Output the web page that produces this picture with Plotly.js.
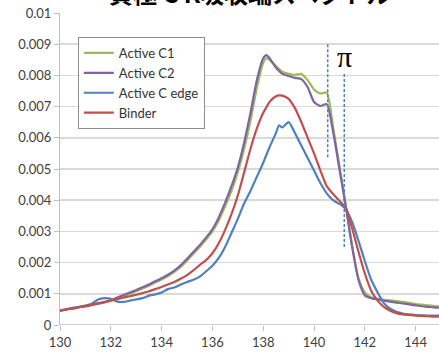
<!DOCTYPE html>
<html><head><meta charset="utf-8">
<script src="https://cdn.plot.ly/plotly-3.0.1.min.js"></script>
<style>html,body{margin:0;padding:0;background:#fff;}#chart{width:439px;height:352px;}</style>
</head><body><div id="chart"></div>
<script>
// Photon energy (eV)
const energy = [130,130.25,130.5,130.75,131,131.25,131.5,131.75,132,132.25,132.5,132.75,133,133.25,133.5,133.75,134,134.25,134.5,134.75,135,135.25,135.5,135.75,136,136.25,136.5,136.75,137,137.25,137.5,137.75,138,138.125,138.25,138.5,138.625,138.75,139,139.25,139.5,139.75,140,140.25,140.5,140.75,141,141.25,141.5,141.75,142,142.25,142.5,142.75,143,143.25,143.5,143.75,144,144.25,144.5,144.75,145];
// Intensities in units of 1e-3
const activeC1 = [0.46,0.50,0.53,0.57,0.60,0.64,0.68,0.72,0.78,0.85,0.92,1.00,1.08,1.17,1.26,1.36,1.46,1.57,1.70,1.86,2.06,2.28,2.50,2.74,3.00,3.35,3.80,4.30,4.90,5.65,6.55,7.60,8.40,8.55,8.50,8.30,8.20,8.12,8.05,8.02,8.05,7.85,7.55,7.42,7.45,6.35,5.10,3.85,2.55,1.50,1.05,0.88,0.84,0.81,0.79,0.77,0.74,0.71,0.67,0.65,0.63,0.61,0.59];
const activeC2 = [0.46,0.50,0.53,0.57,0.60,0.64,0.68,0.73,0.80,0.88,0.96,1.04,1.12,1.21,1.30,1.40,1.50,1.61,1.74,1.91,2.12,2.34,2.56,2.80,3.07,3.45,3.92,4.45,5.05,5.85,6.80,7.85,8.55,8.65,8.55,8.25,8.14,8.05,7.98,7.92,7.88,7.62,7.15,7.02,7.08,6.20,5.00,3.80,2.50,1.45,0.95,0.86,0.82,0.78,0.75,0.72,0.69,0.66,0.63,0.60,0.58,0.56,0.55];
const activeCedge = [0.46,0.50,0.55,0.58,0.62,0.68,0.82,0.86,0.84,0.75,0.74,0.78,0.82,0.86,0.94,0.98,1.04,1.15,1.20,1.30,1.38,1.45,1.55,1.72,1.90,2.15,2.50,2.95,3.40,3.90,4.30,4.75,5.20,5.45,5.70,6.15,6.40,6.33,6.50,6.15,5.75,5.35,4.95,4.55,4.22,4.00,3.88,3.72,3.30,2.70,2.05,1.45,1.05,0.70,0.52,0.42,0.37,0.34,0.32,0.31,0.30,0.30,0.30];
const binder = [0.46,0.50,0.53,0.57,0.61,0.65,0.70,0.74,0.78,0.83,0.88,0.92,0.97,1.02,1.08,1.15,1.22,1.30,1.38,1.48,1.60,1.75,1.92,2.08,2.30,2.62,3.05,3.55,4.15,4.90,5.65,6.30,6.80,6.98,7.15,7.33,7.36,7.35,7.25,6.95,6.50,6.00,5.50,4.95,4.45,4.20,3.98,3.75,3.10,2.35,1.65,1.10,0.78,0.58,0.46,0.38,0.34,0.32,0.30,0.29,0.28,0.27,0.27];
const seriesNames = ["Active C1","Active C2","Active C edge","Binder"];
const seriesColors = ["#9BBB59","#8064A2","#4F81BD","#C0504D"];
const yTickVals = [0,0.001,0.002,0.003,0.004,0.005,0.006,0.007,0.008,0.009,0.01];
const yTickLabels = ["0","0.001","0.002","0.003","0.004","0.005","0.006","0.007","0.008","0.009","0.01"];
const xTickVals = [130,132,134,136,138,140,142,144];
const titleText = "負極 C K吸収端スペクトル";
const piMarkers = [{x:140.54, y0:0.00538, y1:0.00904},{x:141.19, y0:0.0025, y1:0.0081}];

const scale = v => v.map(d => d/1000);
const ys = [activeC1, activeC2, activeCedge, binder];
const traces = ys.map((y,i) => ({
  x: energy, y: scale(y), type: 'scatter', mode: 'lines', name: seriesNames[i],
  line: {color: seriesColors[i], width: 2.2, shape: 'spline', smoothing: 0.6}
}));

const font = {family: 'Lato, "Liberation Sans", sans-serif', size: 13, color: '#404040'};
const layout = {
  width: 439, height: 352,
  margin: {l: 60, r: 0, t: 13, b: 27},
  paper_bgcolor: '#fff', plot_bgcolor: '#fff',
  font: font,
  showlegend: true,
  legend: {x: 0.047, y: 0.923, xanchor: 'left', yanchor: 'top', bgcolor: '#fff',
    bordercolor: '#8c8c8c', borderwidth: 1, font: {family: font.family, size: 13, color: '#333'},
    tracegroupgap: 0, itemwidth: 30},
  xaxis: {range: [130, 144.92], tickvals: xTickVals, ticks: 'outside', ticklen: 5,
    tickcolor: '#bfbfbf', showgrid: false, zeroline: false, showline: false,
    tickfont: font, fixedrange: true},
  yaxis: {range: [0, 0.01], tickvals: yTickVals, ticktext: yTickLabels, ticks: 'outside',
    ticklen: 5, tickcolor: '#bfbfbf', showgrid: true, gridcolor: '#d9d9d9', gridwidth: 1.5,
    zeroline: false, showline: true, linecolor: '#bfbfbf', linewidth: 1, tickfont: font},
  shapes: piMarkers.map(m => ({type: 'line', xref: 'x', yref: 'y', x0: m.x, x1: m.x, y0: m.y0, y1: m.y1,
    line: {color: '#4F81BD', width: 1.5, dash: '3px,2px'}})).concat([
    {type:'line', xref:'paper', yref:'y', x0:0, x1:1, y0:0, y1:0, line:{color:'#bfbfbf', width:1.5}}]),
  annotations: [
    {text: 'π', xref: 'x', yref: 'y', x: 141.2, y: 0.0086, showarrow: false,
     font: {family: '"Liberation Serif", "DejaVu Serif", serif', size: 30, color: '#000'}},
    {text: '<b>' + titleText + '</b>', xref: 'paper', yref: 'paper', x: 0.5, y: 1.003,
     xanchor: 'center', yanchor: 'bottom', showarrow: false,
     font: {family: '"Noto Sans CJK JP", sans-serif', size: 24, color: '#000'}}
  ]
};
Plotly.newPlot('chart', traces, layout, {staticPlot: true, displayModeBar: false});
</script></body></html>
